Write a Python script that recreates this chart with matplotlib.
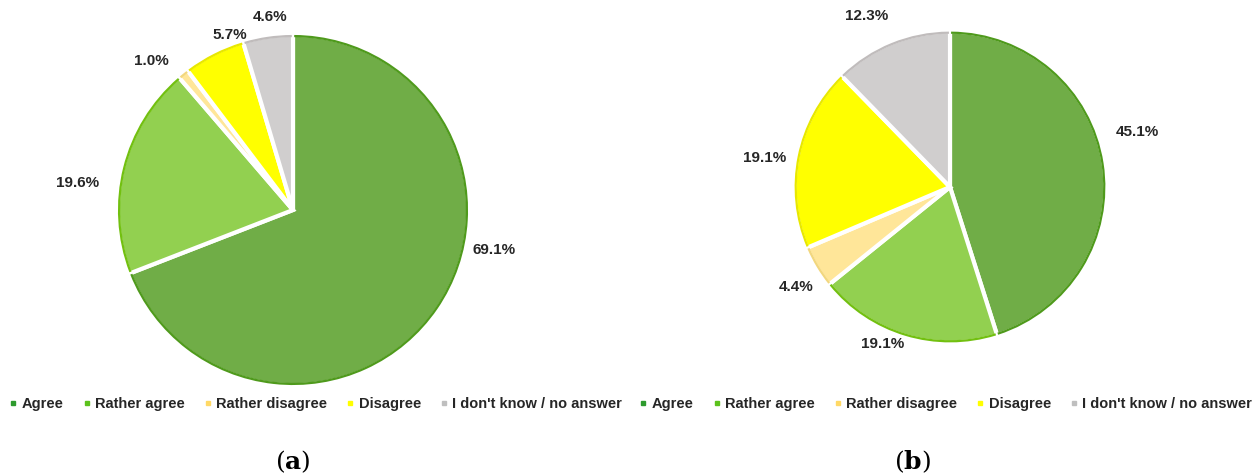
import numpy as np
import matplotlib
matplotlib.use('Agg')
import matplotlib.pyplot as plt
from matplotlib.lines import Line2D
from matplotlib.patches import Arc

categories = ['Agree', 'Rather agree', 'Rather disagree', 'Disagree', "I don't know / no answer"]
values_a = [69.1, 19.6, 1.0, 5.7, 4.6]
values_b = [45.1, 19.1, 4.4, 19.1, 12.3]

face_colors = ['#70ad47', '#92d050', '#ffe699', '#ffff00', '#d0cece']
edge_colors = ['#4f9a1c', '#72c010', '#f2d77e', '#e8e800', '#c0bcbc']
legend_colors = ['#2e9b2e', '#5cc21c', '#ffd966', '#ffff00', '#bfbfbf']

# label placement tweaks (angle nudge in degrees, radial distance)
nudge_a = [23, 7, 4.7, -6.8, -1.6]
dist_a = [1.17, 1.24, 1.17, 1.06, 1.11]
nudge_b = [7.6, -6.5, 2.1, 2.5, 3.8]
dist_b = [1.26, 1.10, 1.18, 1.21, 1.22]

W, H = 1253, 476
fig = plt.figure(figsize=(W / 100, H / 100), dpi=100, facecolor='white')


def draw_pie(cx, cy, r, vals, nudge, dist):
    ax = fig.add_axes([(cx - r) / W, (H - cy - r) / H, 2 * r / W, 2 * r / H])
    wedges, _ = ax.pie(vals, colors=face_colors, startangle=90, counterclock=False,
                       wedgeprops=dict(edgecolor='white', linewidth=3))
    # darker rim on the outside of every slice
    for w, ec in zip(wedges, edge_colors):
        ax.add_patch(Arc((0, 0), 1.985, 1.985, theta1=w.theta1 + 0.4, theta2=w.theta2 - 0.4,
                         color=ec, linewidth=1.6))
    for w, v, n, d in zip(wedges, vals, nudge, dist):
        mid = np.deg2rad((w.theta1 + w.theta2) / 2 + n)
        ax.text(d * np.cos(mid), d * np.sin(mid), '%.1f%%' % v, ha='center', va='center',
                fontsize=11, fontweight='bold', color='#262626', family='Liberation Sans')
    ax.set_xlim(-1.01, 1.01)
    ax.set_ylim(-1.01, 1.01)
    ax.set_aspect('equal')
    ax.axis('off')
    return ax


draw_pie(293, 210, 177, values_a, nudge_a, dist_a)
draw_pie(950, 187, 157, values_b, nudge_b, dist_b)

handles = [Line2D([], [], marker='s', linestyle='none', markersize=3.5,
                  markerfacecolor=c, markeredgecolor=c) for c in legend_colors]
for x0 in [316 / W, 946 / W]:
    fig.legend(handles, categories, loc='center', bbox_to_anchor=(x0, 1 - 404 / H),
               ncol=5, frameon=False, handlelength=0.5, handletextpad=0.35,
               columnspacing=1.3, prop=dict(family='Liberation Sans', weight='bold', size=10.5),
               labelcolor='#262626')

fig.text(293 / W, 1 - 462 / H, r'($\mathbf{a}$)', ha='center', va='center', fontsize=18,
         family='DejaVu Serif', math_fontfamily='dejavuserif')
fig.text(912 / W, 1 - 462 / H, r'($\mathbf{b}$)', ha='center', va='center', fontsize=18,
         family='DejaVu Serif', math_fontfamily='dejavuserif')

fig.savefig('out.png', dpi=100, facecolor='white')
